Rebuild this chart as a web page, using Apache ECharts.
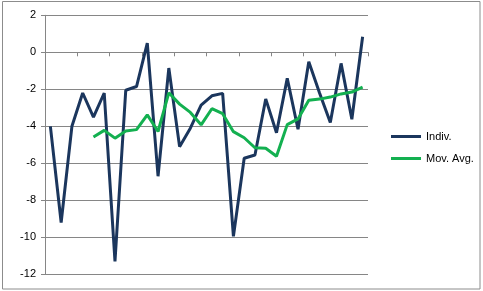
<!DOCTYPE html>
<html>
<head>
<meta charset="utf-8">
<script src="https://cdn.jsdelivr.net/npm/echarts@6/dist/echarts.min.js"></script>
<style>
html,body{margin:0;padding:0;background:#fff;}
#c{width:483px;height:291px;}
</style>
</head>
<body>
<div id="c"></div>
<script>
var categories = ['1','2','3','4','5','6','7','8','9','10','11','12','13','14','15','16','17','18','19','20','21','22','23','24','25','26','27','28','29','30'];
var indiv = [-4, -9.2, -4, -2.2, -3.5, -2.2, -11.3, -2.05, -1.85, 0.5, -6.7, -0.85, -5.1, -4.1, -2.85, -2.35, -2.22, -9.95, -5.73, -5.55, -2.52, -4.35, -1.41, -4.16, -0.51, -2.2, -3.8, -0.6, -3.62, 0.84];
var movAvg = [null, null, null, null, -4.58, -4.22, -4.64, -4.25, -4.18, -3.38, -4.28, -2.19, -2.80, -3.25, -3.92, -3.05, -3.32, -4.29, -4.62, -5.16, -5.19, -5.62, -3.91, -3.60, -2.59, -2.53, -2.42, -2.25, -2.15, -1.88];
var yTicks = {min: -12, max: 2, interval: 2};
var seriesNames = ['Indiv.', 'Mov. Avg.'];

var chart = echarts.init(document.getElementById('c'));
var font = 'Liberation Sans, Arial, sans-serif';
chart.setOption({
  animation: false,
  backgroundColor: '#fff',
  graphic: [{
    type: 'rect',
    shape: {x: 2.5, y: 1.5, width: 477.5, height: 287.5},
    style: {fill: 'none', stroke: '#8c8c8c', lineWidth: 1},
    silent: true
  }],
  grid: {left: 45, right: 115, top: 15.3, bottom: 16.7, containLabel: false},
  legend: {
    orient: 'vertical',
    left: 386,
    top: 126,
    icon: 'rect',
    itemWidth: 30,
    itemHeight: 3,
    itemGap: 11,
    textStyle: {fontFamily: font, fontSize: 11, color: '#000'},
    data: seriesNames
  },
  xAxis: {
    type: 'category',
    data: categories,
    boundaryGap: true,
    axisLine: {onZero: true, lineStyle: {color: '#868686', width: 1}},
    axisTick: {show: true, interval: 2, length: 4, lineStyle: {color: '#868686'}},
    axisLabel: {show: false},
    splitLine: {show: false}
  },
  yAxis: {
    type: 'value',
    min: yTicks.min,
    max: yTicks.max,
    interval: yTicks.interval,
    axisLine: {show: true, lineStyle: {color: '#868686', width: 1}},
    axisTick: {show: true, length: 4, lineStyle: {color: '#868686'}},
    axisLabel: {fontFamily: font, fontSize: 11, color: '#000', margin: 9},
    splitLine: {show: true, lineStyle: {color: '#868686', width: 1}}
  },
  series: [
    {
      name: seriesNames[0],
      type: 'line',
      data: indiv,
      symbol: 'none',
      lineStyle: {color: '#1b365d', width: 3},
      itemStyle: {color: '#1b365d'}
    },
    {
      name: seriesNames[1],
      type: 'line',
      data: movAvg,
      symbol: 'none',
      connectNulls: false,
      lineStyle: {color: '#13b050', width: 3},
      itemStyle: {color: '#13b050'}
    }
  ]
});
</script>
</body>
</html>
